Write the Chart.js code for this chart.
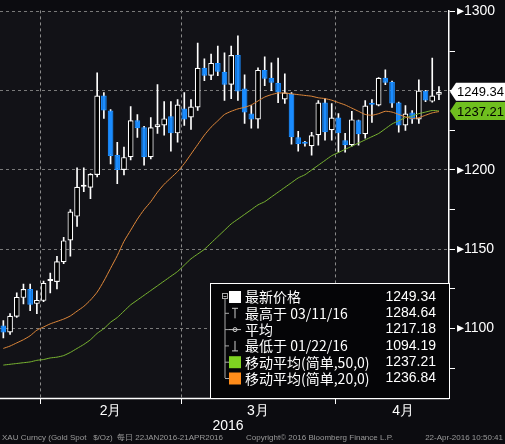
<!DOCTYPE html>
<html>
<head>
<meta charset="utf-8">
<script src="https://cdn.jsdelivr.net/npm/chart.js@4"></script>
<style>
  html, body { margin: 0; padding: 0; background: #0e0e12; }
  #wrap { width: 505px; height: 444px; }
</style>
</head>
<body>
<div id="wrap"><canvas id="goldChart" width="505" height="444"></canvas></div>
<script>
// trading days 22 Jan - 21 Apr 2016 (last slot left empty, as on the terminal)
const dates = [
  "01/22","01/25","01/26","01/27","01/28","01/29",
  "02/01","02/02","02/03","02/04","02/05","02/08","02/09","02/10","02/11","02/12",
  "02/15","02/16","02/17","02/18","02/19","02/22","02/23","02/24","02/25","02/26","02/29",
  "03/01","03/02","03/03","03/04","03/07","03/08","03/09","03/10","03/11","03/14","03/15",
  "03/16","03/17","03/18","03/21","03/22","03/23","03/24","03/25","03/28","03/29","03/30","03/31",
  "04/01","04/04","04/05","04/06","04/07","04/08","04/11","04/12","04/13","04/14","04/15",
  "04/18","04/19","04/20","04/21","04/22",""
];
const opens  = [1101.9,1097.5,1107.5,1119.4,1125,1115.6,1117.5,1130,1129.4,1141.9,1155.6,1170.6,1189.4,1188.8,1196.9,1246.9,1237.5,1209.4,1200,1208.1,1231.3,1226.9,1208.1,1226.9,1228.1,1233.8,1223.1,1238.8,1233.1,1239.4,1264.4,1259.4,1267.5,1261.9,1253.8,1272.5,1251.3,1235.6,1231.9,1263.1,1258.1,1255,1244.4,1248.1,1220.6,1216.9,1215,1221.9,1242.5,1225,1233.1,1218.8,1215.6,1231.3,1222.5,1241.3,1240.6,1258.1,1255.6,1242.5,1228.1,1236.3,1231.9,1250,1243.1,1247.5];
const highs  = [1105,1109.4,1122.5,1128.1,1128.1,1123.8,1130,1135,1145.6,1157.5,1175,1201.3,1201.3,1197.8,1261.3,1248.8,1238,1217.5,1214.4,1240,1235,1227.5,1233.1,1253.8,1243.1,1243.1,1244.4,1248.8,1244.4,1280,1270,1273.1,1278.1,1273.8,1278.1,1284.6,1260,1240.6,1264.4,1271.3,1267.5,1270.6,1260.6,1248.8,1224.4,1218,1223.8,1243.8,1245,1241.9,1235.6,1223.1,1236.9,1231.5,1243.8,1244.4,1258.3,1263.1,1256,1242.8,1240.6,1237.5,1256.9,1250.2,1270.6,1252.5];
const lows   = [1094.2,1096.3,1107,1115.6,1111.3,1109.4,1117,1122.5,1125,1141,1145.6,1164.4,1186.3,1181.9,1195.6,1232.5,1203.8,1191.3,1196.9,1206.3,1220.6,1203.1,1206.9,1223.1,1221.9,1211.9,1217.5,1228.1,1225.6,1237.5,1256.3,1256.9,1259.4,1243.8,1245,1243.8,1229.4,1226.3,1226.3,1253.1,1250,1242.5,1241.9,1216.3,1211.9,1215,1209.4,1215.6,1218.8,1218.8,1211.3,1211.3,1215,1215.6,1220,1230,1240.4,1253.8,1239.4,1223.8,1225,1229.4,1229.4,1243.1,1242.8,1244.4];
const closes = [1097.5,1108.1,1120,1125,1115,1118.1,1128.8,1130.5,1142.5,1155.6,1173.8,1189.4,1189.6,1197.5,1246.9,1237.5,1208.8,1200,1208.1,1231.3,1226.3,1208.1,1226.9,1228.8,1232.5,1223.1,1241.3,1231.9,1240,1264.4,1259.4,1267.5,1261.9,1253.8,1272.5,1249.4,1236.3,1231.9,1263.1,1257.5,1255,1248.8,1248.8,1220.6,1216.3,1216.6,1221.9,1242.5,1223.8,1233.1,1223.1,1215.6,1231.9,1222.5,1240.6,1241.1,1258.1,1255,1241.9,1228.1,1235.6,1231.9,1250,1243.8,1246.9,1249.3];
const ma20 = [1087.5,1089,1091,1093,1095.5,1099,1101,1103,1104.5,1106,1108,1111,1114,1118,1123,1130,1138,1146,1155,1162,1169,1175,1180,1186,1191,1195,1199,1204,1210,1216,1222,1227,1231,1235,1237,1238.5,1239.5,1241,1243.5,1246,1247.5,1248.5,1248.5,1248,1247.5,1247,1246.5,1245.5,1245,1244,1242.5,1241,1239,1237,1235,1234.5,1235.5,1237,1236.5,1235,1233.5,1232.5,1233,1234.5,1236,1236.8];
const ma50 = [1077,1077.5,1078,1078.5,1079,1080,1080.5,1081.5,1082,1083,1085,1087.5,1090,1093,1097,1100,1104,1107,1111,1115,1118,1121,1124,1127,1130,1133,1136,1140,1144,1147,1150,1154,1158,1162,1166,1169,1172,1175,1178,1180,1183,1186,1189,1192,1195,1197,1200,1203,1206,1209,1211,1213,1215,1217,1219,1221,1223,1226,1229,1231,1233,1234,1235.5,1236.5,1237.5,1237.2];

const monthNames = ["2月", "3月", "4月"];
const monthStarts = [6, 27, 50];   // index of first day of Feb, Mar, Apr
const legendRows = [
  ["最新价格", "1249.34", "box", "#ffffff"],
  ["最高于 03/11/16", "1284.64", "hi", null],
  ["平均", "1217.18", "avg", null],
  ["最低于 01/22/16", "1094.19", "lo", null],
  ["移动平均(简单,50,0)", "1237.21", "box", "#7ed321"],
  ["移动平均(简单,20,0)", "1236.84", "box", "#ff8c1a"]
];

const UP = "#ffffff", DOWN = "#1a8cff";
const isUp = closes.map((c, i) => c >= opens[i]);
const FONT = "'Liberation Sans', Arial, sans-serif";

const decor = {
  id: "decor",
  beforeDraw(chart) {
    const { ctx, chartArea: a } = chart;
    ctx.save();
    ctx.fillStyle = "#0c0c10";
    ctx.fillRect(0, 0, chart.width, chart.height);
    ctx.fillStyle = "#121217";
    ctx.fillRect(a.left, a.top, a.right - a.left, a.bottom - a.top);
    const xs = chart.scales.x;
    ctx.strokeStyle = "#8a8a8a";
    ctx.setLineDash([3, 3]);
    ctx.lineWidth = 1;
    monthStarts.forEach(i => {
      const x = Math.round((xs.getPixelForValue(i - 1) + xs.getPixelForValue(i)) / 2) + 0.5;
      ctx.beginPath(); ctx.moveTo(x, a.top); ctx.lineTo(x, a.bottom); ctx.stroke();
    });
    ctx.restore();
  },
  afterDraw(chart) {
    const { ctx, chartArea: a } = chart;
    const xs = chart.scales.x, ys = chart.scales.y;
    ctx.save();
    ctx.strokeStyle = "#ffffff";
    ctx.lineWidth = 1.5;
    ctx.beginPath(); ctx.moveTo(0, a.bottom + 0.5); ctx.lineTo(a.right, a.bottom + 0.5); ctx.stroke();
    const bounds = monthStarts.map(i => (xs.getPixelForValue(i - 1) + xs.getPixelForValue(i)) / 2);
    ctx.lineWidth = 1;
    bounds.forEach(x => {
      ctx.beginPath(); ctx.moveTo(Math.round(x) + 0.5, a.bottom); ctx.lineTo(Math.round(x) + 0.5, a.bottom + 6); ctx.stroke();
    });
    ctx.fillStyle = "#ffffff";
    ctx.font = "14px " + FONT;
    ctx.textAlign = "center";
    ctx.textBaseline = "middle";
    const mids = [(bounds[0] + bounds[1]) / 2, (bounds[1] + bounds[2]) / 2, bounds[2] + 68];
    monthNames.forEach((m, k) => ctx.fillText(m, mids[k], a.bottom + 13));
    ctx.fillText("2016", mids[1] - 30, a.bottom + 28);
    ctx.font = "8px " + FONT;
    ctx.fillStyle = "#9a9a9a";
    ctx.textAlign = "left";
    ctx.fillText("XAU Curncy (Gold Spot   $/Oz)  每日 22JAN2016-21APR2016", 2, 438);
    ctx.fillText("Copyright\u00a9 2016 Bloomberg Finance L.P.", 246, 438);
    ctx.textAlign = "right";
    ctx.fillText("22-Apr-2016 10:50:41", 503, 438);

    const tag = (val, text, bg, fg) => {
      const y = ys.getPixelForValue(val);
      const x0 = a.right + 1;
      ctx.fillStyle = bg;
      ctx.beginPath();
      ctx.moveTo(x0, y); ctx.lineTo(x0 + 6, y - 9); ctx.lineTo(505, y - 9);
      ctx.lineTo(505, y + 9); ctx.lineTo(x0 + 6, y + 9); ctx.closePath(); ctx.fill();
      ctx.fillStyle = fg;
      ctx.font = "13px " + FONT;
      ctx.textAlign = "right";
      ctx.fillText(text, 504, y + 1);
    };
    tag(closes[closes.length - 1], "1249.34", "#ffffff", "#000000");
    tag(ma50[ma50.length - 1] + 0.01, "1237.21", "#6fbf1f", "#000000");

    const lx = 210, ly = 283, lw = a.right - lx, lh = a.bottom - ly;
    ctx.fillStyle = "#050507";
    ctx.fillRect(lx, ly, lw, lh);
    ctx.strokeStyle = "#ffffff";
    ctx.lineWidth = 1;
    ctx.strokeRect(lx + 0.5, ly + 0.5, lw, lh);
    ctx.strokeStyle = "#aaaaaa";
    ctx.strokeRect(222.5, 293.5, 5, 5);
    ctx.beginPath(); ctx.moveTo(223.5, 296.5); ctx.lineTo(226.5, 296.5); ctx.stroke();
    ctx.beginPath(); ctx.moveTo(225, 299); ctx.lineTo(225, 378); ctx.stroke();
    legendRows.forEach((r, k) => {
      const y = 297 + k * 16.3;
      ctx.strokeStyle = "#aaaaaa";
      if (k > 0) { ctx.beginPath(); ctx.moveTo(225, y); ctx.lineTo(229, y); ctx.stroke(); }
      if (r[2] === "box") {
        ctx.fillStyle = r[3];
        ctx.fillRect(229, y - 6, 12, 12);
      } else {
        ctx.strokeStyle = "#cccccc";
        ctx.beginPath();
        if (r[2] === "hi") { ctx.moveTo(232, y - 5); ctx.lineTo(238, y - 5); ctx.moveTo(235, y - 5); ctx.lineTo(235, y + 5); }
        if (r[2] === "lo") { ctx.moveTo(232, y + 5); ctx.lineTo(238, y + 5); ctx.moveTo(235, y - 5); ctx.lineTo(235, y + 5); }
        if (r[2] === "avg") { ctx.moveTo(229, y); ctx.lineTo(241, y); ctx.stroke(); ctx.beginPath(); ctx.arc(235, y, 2, 0, Math.PI * 2); }
        ctx.stroke();
      }
      ctx.fillStyle = "#ffffff";
      ctx.font = "14px 'Noto Sans CJK SC', " + FONT;
      ctx.textAlign = "left";
      ctx.fillText(r[0], 245, y);
      ctx.font = "14px " + FONT;
      ctx.textAlign = "right";
      ctx.fillText(r[1], 436, y);
    });
    ctx.restore();
  }
};

new Chart(document.getElementById("goldChart"), {
  data: {
    labels: dates,
    datasets: [
      {
        type: "line", data: ma20, borderColor: "#e0883a", borderWidth: 1,
        pointRadius: 0, tension: 0.2, order: 0
      },
      {
        type: "line", data: ma50, borderColor: "#79b531", borderWidth: 1,
        pointRadius: 0, tension: 0.2, order: 0
      },
      {
        type: "bar", data: opens.map((o, i) => [o, closes[i]]),
        backgroundColor: isUp.map(u => u ? "#000000" : DOWN),
        borderColor: isUp.map(u => u ? UP : DOWN),
        borderWidth: 1.2, borderSkipped: false, minBarLength: 2,
        barPercentage: 0.85, categoryPercentage: 1, grouped: false, order: 1
      },
      {
        type: "bar", data: lows.map((l, i) => [l, highs[i]]),
        backgroundColor: "#ffffff", barThickness: 1,
        grouped: false, order: 2
      }
    ]
  },
  options: {
    responsive: false,
    animation: false,
    layout: { padding: 0 },
    plugins: { legend: { display: false }, tooltip: { enabled: false } },
    scales: {
      x: {
        offset: true,
        grid: { display: false },
        border: { display: false },
        ticks: { display: false },
        afterFit(s) { s.height = 46; }
      },
      y: {
        position: "right",
        min: 1056.25, max: 1300.6,
        afterBuildTicks(s) { s.ticks = [1075, 1100, 1125, 1150, 1175, 1200, 1225, 1250, 1275, 1300].map(v => ({ value: v })); },
        afterFit(s) { s.width = 56; },
        grid: {
          color: c => (c.tick && c.tick.value % 50 === 0) ? "#7a7a7a" : "rgba(0,0,0,0)",
          tickColor: "#ffffff", tickLength: 6
        },
        border: { color: "#ffffff", width: 1.5, dash: [3, 3] },
        ticks: {
          color: "#ffffff", font: { size: 14, family: FONT }, padding: 2,
          callback: v => (v % 50 === 0 && v !== 1250) ? "\u25B8" + v : ""
        }
      }
    }
  },
  plugins: [decor]
});
</script>
</body>
</html>
